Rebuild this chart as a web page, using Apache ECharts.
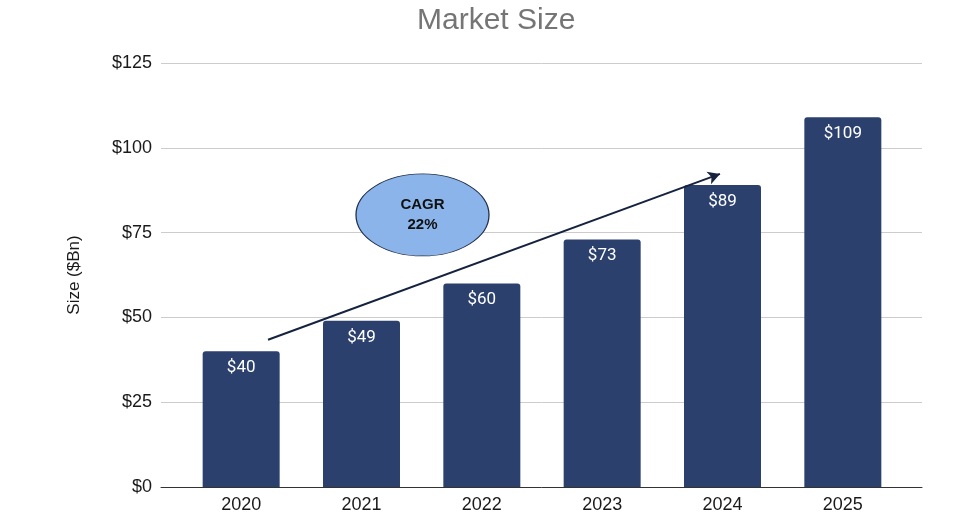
<!DOCTYPE html>
<html>
<head>
<meta charset="utf-8">
<script src="https://cdn.jsdelivr.net/npm/echarts@6/dist/echarts.min.js"></script>
<style>
  html, body { margin: 0; padding: 0; background: #fff; }
  #main { width: 958px; height: 518px; }
</style>
</head>
<body>
<div id="main"></div>
<script>
// chart data
var years = ['2020', '2021', '2022', '2023', '2024', '2025'];
var marketSize = [40, 49, 60, 73, 89, 109];
var yTicks = [0, 25, 50, 75, 100, 125];

// CAGR annotation (x in category index units, y in $Bn)
var cagrText = 'CAGR\n22%';
var cagrPos = [1.503, 80.2];
var arrowStart = [0.22, 43.4];
var arrowEnd = [3.974, 92.3];

var myChart = echarts.init(document.getElementById('main'));

myChart.setOption({
    animation: false,
    title: {
        text: 'Market Size',
        left: 412,
        top: 1,
        textStyle: {
            fontFamily: 'Liberation Sans',
            fontSize: 30,
            fontWeight: 'normal',
            color: '#757575'
        }
    },
    grid: [
        // bars
        {left: 181, right: 55, top: 63, bottom: 31},
        // gridlines, y labels, annotation
        {left: 161, right: 36, top: 63, bottom: 31}
    ],
    xAxis: [{
        type: 'category',
        gridIndex: 0,
        data: years,
        axisLine: {show: false},
        axisTick: {show: false},
        axisLabel: {
            fontFamily: 'Liberation Sans',
            fontSize: 18,
            color: '#1a1a1a',
            margin: 9
        }
    }, {
        type: 'value',
        gridIndex: 1,
        min: -0.669,
        max: 5.652,
        axisLine: {show: true, lineStyle: {color: '#333', width: 1}},
        axisTick: {show: false},
        axisLabel: {show: false},
        splitLine: {show: false}
    }],
    yAxis: [{
        type: 'value',
        gridIndex: 0,
        min: yTicks[0],
        max: yTicks[yTicks.length - 1],
        show: false
    }, {
        type: 'value',
        gridIndex: 1,
        min: yTicks[0],
        max: yTicks[yTicks.length - 1],
        interval: 25,
        name: 'Size ($Bn)',
        nameLocation: 'middle',
        nameGap: 78,
        nameTextStyle: {
            fontFamily: 'Liberation Sans',
            fontSize: 17,
            color: '#1a1a1a'
        },
        axisLine: {show: false},
        axisTick: {show: false},
        axisLabel: {
            fontFamily: 'Liberation Sans',
            fontSize: 18,
            color: '#1a1a1a',
            margin: 9,
            formatter: '${value}'
        },
        splitLine: {lineStyle: {color: '#cccccc', width: 1}}
    }],
    series: [{
        name: 'Market Size',
        type: 'bar',
        xAxisIndex: 0,
        yAxisIndex: 0,
        data: marketSize,
        barWidth: 77,
        itemStyle: {color: '#2c406e', borderRadius: [3, 3, 0, 0]},
        label: {
            show: true,
            position: 'insideTop',
            distance: 8,
            formatter: '${c}',
            fontFamily: 'Roboto',
            fontSize: 17,
            color: '#ffffff'
        },
        z: 3
    }, {
        name: 'CAGR',
        type: 'scatter',
        xAxisIndex: 1,
        yAxisIndex: 1,
        data: [cagrPos],
        symbol: 'circle',
        symbolSize: [133, 82],
        silent: true,
        itemStyle: {color: '#8ab4ea', borderColor: '#1e2d4c', borderWidth: 1, opacity: 1},
        label: {
            show: true,
            position: 'inside',
            formatter: cagrText,
            fontFamily: 'Liberation Sans',
            fontWeight: 'bold',
            fontSize: 15,
            lineHeight: 20,
            color: '#111'
        },
        z: 4,
        markLine: {
            silent: true,
            symbol: ['none', 'arrow'],
            symbolSize: [10, 12],
            label: {show: false},
            lineStyle: {color: '#15233f', width: 2, type: 'solid'},
            data: [[{coord: arrowStart}, {coord: arrowEnd}]]
        }
    }]
});
</script>
</body>
</html>
